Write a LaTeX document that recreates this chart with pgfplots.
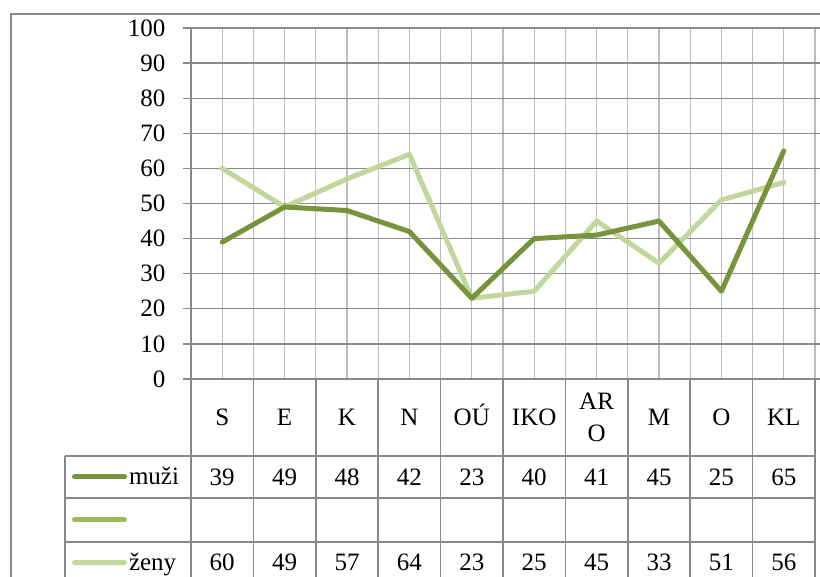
\documentclass[border=0pt]{standalone}
\usepackage{fontspec}
\setmainfont{Liberation Serif}
\usepackage{pgfplots}
\pgfplotsset{compat=1.18}
\definecolor{muzi}{HTML}{77933C}
\definecolor{mid}{HTML}{9BBB59}
\definecolor{zeny}{HTML}{C3D69B}
\definecolor{hgrid}{HTML}{8C8C8C}
\definecolor{vgrid}{HTML}{BDBDBD}
\definecolor{tab}{HTML}{898989}
\begin{document}
\begin{tikzpicture}[x=1pt,y=1pt]
\useasboundingbox (0,0) rectangle (820,577);
\clip (0,0) rectangle (820,577);
\fill[white] (0,0) rectangle (820,577);
\draw[tab, line width=1.6pt] (11,-20) -- (11,563) -- (840,563);
\begin{axis}[
  at={(191pt,198pt)}, anchor=south west,
  scale only axis, width=624pt, height=351pt,
  xmin=-0.5, xmax=9.5, ymin=0, ymax=100,
  axis line style={draw=none},
  xtick={-0.5,0,...,9.5}, xticklabels={}, xtick style={draw=none},
  ytick={0,10,...,100},
  ytick style={tab, line width=1.3pt},
  tick align=outside, major tick length=8pt,
  xmajorgrids, ymajorgrids,
  x grid style={vgrid, line width=1.3pt},
  y grid style={hgrid, line width=1.3pt},
  yticklabel style={font=\fontsize{25}{29}\selectfont, /pgf/number format/assume math mode=true, xshift=-14pt},
  clip=false,
  reverse legend,
  legend cell align=left,
  legend image code/.code={\draw[#1, line width=5pt, line cap=round] (2.5pt,0pt) -- (52.5pt,0pt);},
  legend style={at={(-0.1907,-0.2179)}, anchor=north west, draw=none, fill=none,
    inner sep=0pt, outer sep=0pt, row sep=0pt, column sep=2pt,
    font=\fontsize{25}{29}\selectfont,
    nodes={minimum height=43pt, inner sep=0pt, outer sep=0pt}},
]
\addplot[zeny, line width=5pt, line join=round, line cap=round] coordinates {
  (0,60) (1,49) (2,57) (3,64) (4,23) (5,25) (6,45) (7,33) (8,51) (9,56)};
\addlegendentry{ženy}
\addlegendimage{mid}
\addlegendentry{}
\addplot[muzi, line width=5pt, line join=round, line cap=round] coordinates {
  (0,39) (1,49) (2,48) (3,42) (4,23) (5,40) (6,41) (7,45) (8,25) (9,65)};
\addlegendentry{muži}
\end{axis}
% data table
\begin{scope}[tab, line width=1.6pt]
\draw (191,549) -- (191,-10);
\draw (191,198) -- (815,198);
\foreach \yy in {121,79,35} { \draw (65,\yy) -- (815,\yy); }
\foreach \i in {1,...,10} { \draw ({191+62.4*\i},198) -- ({191+62.4*\i},-10); }
\draw (65,121) -- (65,-10);
\end{scope}
\begin{scope}[font=\fontsize{25}{29}\selectfont, every node/.style={anchor=base, inner sep=0pt}]
\foreach \lab [count=\i from 0] in {S,E,K,N,OÚ,IKO,,M,O,KL} {
  \node at ({222.2+62.4*\i},151) {\lab};
}
\node at ({222.2+62.4*6},167) {AR};
\node at ({222.2+62.4*6},135) {O};
\foreach \v [count=\i from 0] in {39,49,48,42,23,40,41,45,25,65} {
  \node at ({222.2+62.4*\i},91) {\v};
}
\foreach \v [count=\i from 0] in {60,49,57,64,23,25,45,33,51,56} {
  \node at ({222.2+62.4*\i},6) {\v};
}
\end{scope}
\end{tikzpicture}
\end{document}
